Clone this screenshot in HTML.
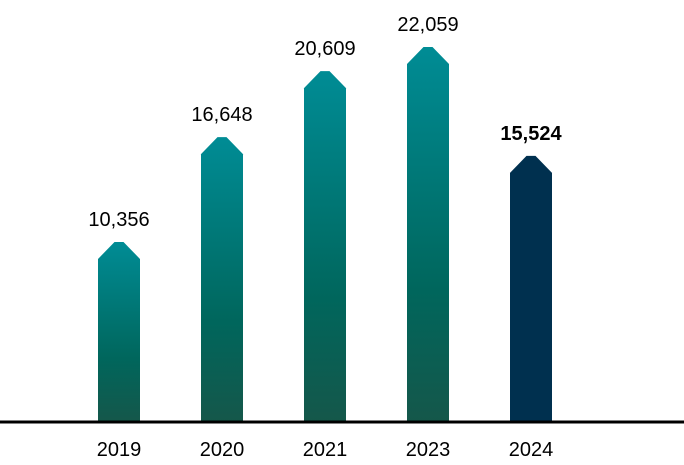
<!DOCTYPE html>
<html><head><meta charset="utf-8"><style>
html,body{margin:0;padding:0;background:#fff;}
svg{display:block;font-family:"Liberation Sans",sans-serif;}
</style></head><body>
<svg id="chart" width="684" height="465">
<defs>
<linearGradient id="g" x1="0" y1="0" x2="0" y2="1">
<stop offset="0" stop-color="#008c95"/>
<stop offset="0.65" stop-color="#00665c"/>
<stop offset="1" stop-color="#15574a"/>
</linearGradient>
</defs>
<g id="bars"></g>
<line x1="0" y1="422" x2="684" y2="422" stroke="#000" stroke-width="3"/>
</svg>
<script>
const categories = ["2019","2020","2021","2023","2024"];
const values = [10356,16648,20609,22059,15524];
const valueLabels = ["10,356","16,648","20,609","22,059","15,524"];
const highlight = [false,false,false,false,true];

const base = 422, zeroY = 414.5, k = 0.01666;
const x0 = 119, step = 103, bw = 42, ch = 17, flat = 9;
const yScale = v => zeroY - v * k;
const xScale = i => x0 + i * step;
const NS = "http://www.w3.org/2000/svg";
const g = document.getElementById("bars");
categories.forEach((c, i) => {
  const cx = xScale(i), top = yScale(values[i]);
  const p = document.createElementNS(NS, "polygon");
  const l = cx - bw/2, r = cx + bw/2;
  p.setAttribute("points", `${l},${base} ${l},${top+ch} ${cx-flat/2},${top} ${cx+flat/2},${top} ${r},${top+ch} ${r},${base}`);
  p.setAttribute("fill", highlight[i] ? "#00304f" : "url(#g)");
  
  
  g.appendChild(p);
  const t = document.createElementNS(NS, "text");
  t.setAttribute("x", cx); t.setAttribute("y", top - 16);
  t.setAttribute("text-anchor", "middle"); t.setAttribute("font-size", "20");
  if (highlight[i]) t.setAttribute("font-weight", "bold");
  t.textContent = valueLabels[i];
  
  
  g.appendChild(t);
  const xl = document.createElementNS(NS, "text");
  xl.setAttribute("x", cx); xl.setAttribute("y", 456);
  xl.setAttribute("text-anchor", "middle"); xl.setAttribute("font-size", "20");
  xl.textContent = c;
  
  
  g.appendChild(xl);
});
</script>
</body></html>
